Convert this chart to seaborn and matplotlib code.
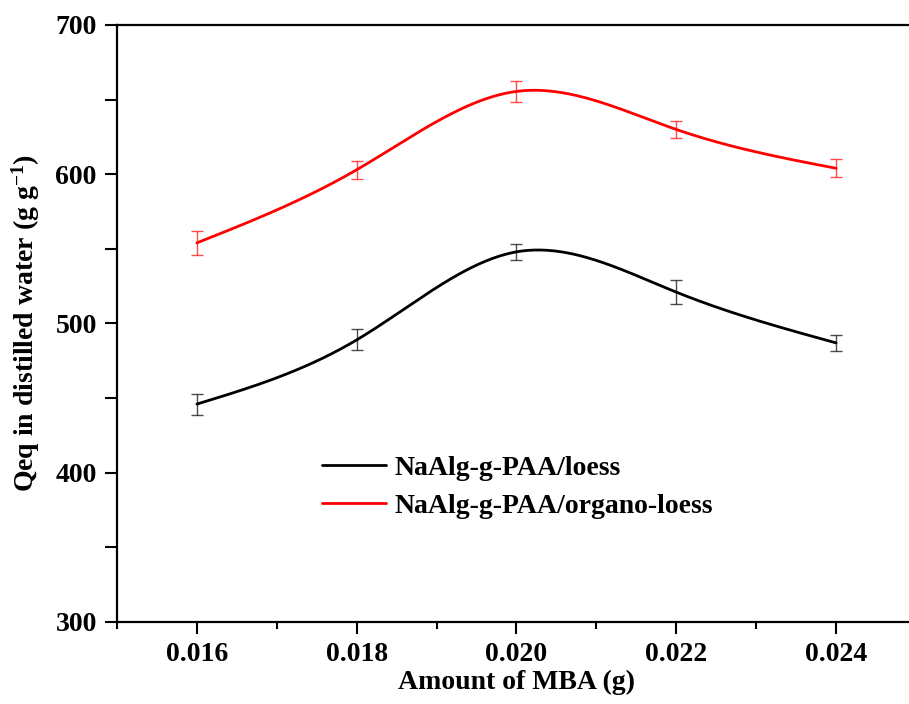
import numpy as np
import pandas as pd
import matplotlib
matplotlib.use("Agg")
import matplotlib.pyplot as plt
import seaborn as sns
from matplotlib.ticker import MultipleLocator, FormatStrFormatter

# ---- data ----
mba = [0.016, 0.018, 0.020, 0.022, 0.024]
loess = [446, 489, 548, 521, 487]
loess_err = [7, 7, 5.5, 8, 5.5]
organo = [554, 603, 655.5, 630, 604]
organo_err = [8, 6, 7, 6, 6]
series_names = ["NaAlg-g-PAA/loess", "NaAlg-g-PAA/organo-loess"]
series_colors = ["#000000", "#ff0000"]
x_ticks = [0.016, 0.018, 0.020, 0.022, 0.024]
y_ticks = [300, 400, 500, 600, 700]


def natural_spline(x, y, n=300):
    x = np.asarray(x, float)
    y = np.asarray(y, float)
    k = len(x)
    h = np.diff(x)
    A = np.zeros((k, k))
    b = np.zeros(k)
    A[0, 0] = A[-1, -1] = 1
    for i in range(1, k - 1):
        A[i, i - 1] = h[i - 1]
        A[i, i] = 2 * (h[i - 1] + h[i])
        A[i, i + 1] = h[i]
        b[i] = 6 * ((y[i + 1] - y[i]) / h[i] - (y[i] - y[i - 1]) / h[i - 1])
    M = np.linalg.solve(A, b)
    xs = np.linspace(x[0], x[-1], n)
    idx = np.clip(np.searchsorted(x, xs) - 1, 0, k - 2)
    x0, x1 = x[idx], x[idx + 1]
    hh = x1 - x0
    ys = (M[idx] * (x1 - xs) ** 3 / (6 * hh) + M[idx + 1] * (xs - x0) ** 3 / (6 * hh)
          + (y[idx] / hh - M[idx] * hh / 6) * (x1 - xs)
          + (y[idx + 1] / hh - M[idx + 1] * hh / 6) * (xs - x0))
    return xs, ys


sns.set_style("ticks")
plt.rcParams["font.family"] = ["Liberation Serif", "DejaVu Serif"]
plt.rcParams["font.weight"] = "bold"
plt.rcParams["axes.labelweight"] = "bold"
plt.rcParams["text.color"] = "black"
plt.rcParams["axes.labelcolor"] = "black"
plt.rcParams["xtick.color"] = "black"
plt.rcParams["ytick.color"] = "black"
plt.rcParams["mathtext.fontset"] = "custom"
plt.rcParams["mathtext.rm"] = "Liberation Serif:bold"
plt.rcParams["mathtext.it"] = "Liberation Serif:bold"
plt.rcParams["mathtext.bf"] = "Liberation Serif:bold"

fig = plt.figure(figsize=(9.09, 7.04), dpi=100)
ax = fig.add_axes([0.1287, 0.1165, 0.879, 0.848])

frames = []
for name, vals in zip(series_names, [loess, organo]):
    xs, ys = natural_spline(mba, vals)
    frames.append(pd.DataFrame({"x": xs, "y": ys, "series": name}))
curve = pd.concat(frames, ignore_index=True)

sns.lineplot(data=curve, x="x", y="y", hue="series", hue_order=series_names,
             palette=series_colors, linewidth=2.0, ax=ax, sort=False,
             estimator=None)

for vals, errs, col in zip([loess, organo], [loess_err, organo_err], series_colors):
    ax.errorbar(mba, vals, yerr=errs, fmt="none", ecolor=col, elinewidth=1.0,
                capsize=4.3, capthick=1.0, alpha=0.7)

ax.set_xlim(0.015, 0.025)
ax.set_ylim(300, 700)
ax.set_xticks(x_ticks)
ax.set_yticks(y_ticks)
ax.xaxis.set_minor_locator(MultipleLocator(0.001))
ax.yaxis.set_minor_locator(MultipleLocator(50))
ax.xaxis.set_major_formatter(FormatStrFormatter("%.3f"))

ax.tick_params(axis="both", which="major", direction="out", length=8.5,
               width=1.5, labelsize=20, color="black", labelcolor="black", pad=6)
ax.tick_params(axis="x", which="minor", direction="out", length=5, width=1.5,
               color="black")
ax.tick_params(axis="y", which="minor", direction="out", length=8.5, width=1.5,
               color="black")
for lab in ax.get_xticklabels() + ax.get_yticklabels():
    lab.set_fontweight("bold")

for sp in ax.spines.values():
    sp.set_linewidth(1.6)
    sp.set_color("black")
    sp.set_visible(True)

ax.set_xlabel("Amount of MBA (g)", fontsize=20, fontweight="bold", labelpad=2,
              color="black")
ax.set_ylabel(r"Qeq in distilled water (g g$^{-1}$)", fontsize=20,
              fontweight="bold", labelpad=10, color="black")

leg = ax.legend(title=None, loc="upper left", bbox_to_anchor=(0.257, 0.279),
                frameon=False, handlelength=2.3, handletextpad=0.3,
                labelspacing=0.45, borderaxespad=0, borderpad=0,
                prop={"weight": "bold", "size": 20})
for t in leg.get_texts():
    t.set_color("black")

fig.savefig("out.png", dpi=100)
